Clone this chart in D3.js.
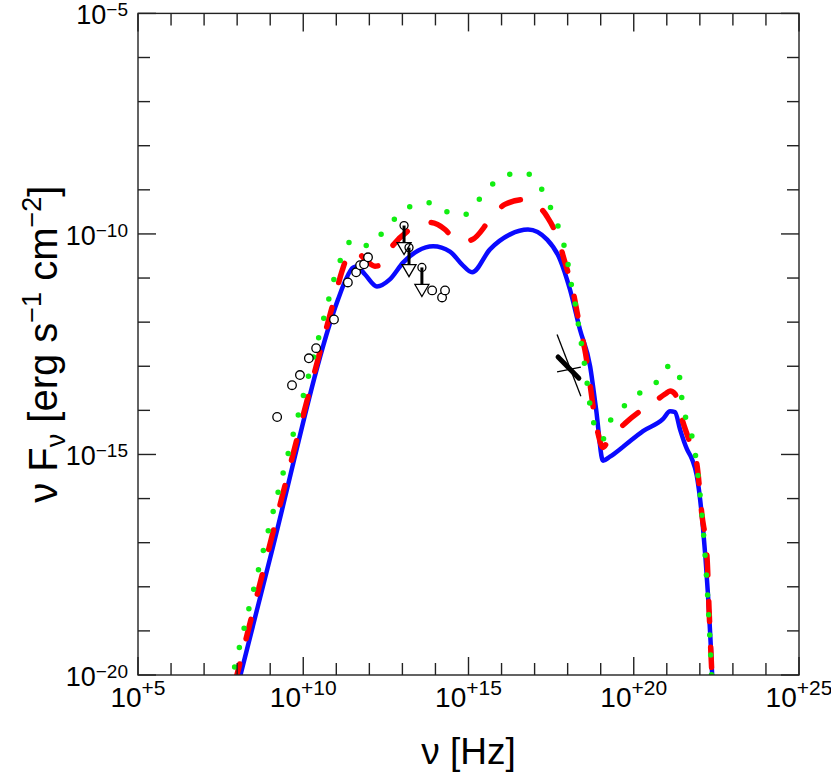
<!DOCTYPE html>
<html>
<head>
<meta charset="utf-8">
<script src="https://cdn.jsdelivr.net/npm/d3@7"></script>
<style>
  body { margin: 0; background: #fff; }
  text { font-family: "Liberation Sans", Arial, Helvetica, sans-serif; fill: #000; }
</style>
</head>
<body>
<svg id="chart"></svg>
<script>
// values are log10(nu [Hz]), log10(nuFnu [erg s^-1 cm^-2])
const modelSolid = [
  [8.05, -20.15], [8.99, -17.37], [11.05, -11.49], [11.26, -11.08], [11.51, -10.76],
  [11.63, -10.74], [11.87, -10.92], [12.23, -11.19], [12.62, -11.03], [13.02, -10.65],
  [13.47, -10.38], [13.93, -10.28], [14.44, -10.40], [14.80, -10.69], [15.11, -10.87],
  [15.65, -10.35], [16.26, -10.01], [16.80, -9.90], [17.38, -10.13], [17.77, -10.58],
  [18.07, -11.26], [18.37, -12.16], [18.68, -13.0], [18.86, -13.97], [19.07, -15.14],
  [19.28, -15.05], [19.67, -14.83], [20.28, -14.47], [20.88, -14.20], [21.10, -14.02],
  [21.25, -14.04], [21.40, -14.43], [21.61, -14.88], [21.76, -15.10], [21.91, -15.49],
  [22.09, -16.62], [22.24, -18.11], [22.37, -19.96], [22.40, -20.5]
];
const modelDashed = [
  [7.93, -20.19], [10.96, -11.42], [11.17, -10.85], [11.41, -10.42], [11.60, -10.40],
  [11.87, -10.58], [12.17, -10.73], [12.32, -10.71], [12.62, -10.35], [13.23, -9.90],
  [13.84, -9.74], [14.29, -9.90], [14.50, -10.06], [14.80, -10.17], [15.11, -10.13],
  [15.65, -9.68], [16.10, -9.33], [16.71, -9.22], [16.86, -9.25], [17.38, -9.61],
  [17.71, -10.11], [17.92, -10.65], [18.13, -11.19], [18.37, -12.10], [18.52, -12.62],
  [18.89, -14.43], [19.07, -14.84], [19.22, -14.70], [19.74, -14.29], [20.28, -13.97],
  [20.64, -13.79], [20.95, -13.63], [21.10, -13.56], [21.25, -13.63], [21.46, -14.20],
  [21.67, -14.67], [21.91, -15.22], [22.06, -16.35], [22.22, -17.37], [22.28, -18.54],
  [22.36, -19.9], [22.40, -20.5]
];
const modelDotted = [
  [7.78, -20.26], [8.72, -17.39], [10.81, -11.37], [10.96, -10.94], [11.17, -10.51],
  [11.47, -10.15], [11.70, -10.14], [11.96, -10.28], [12.38, -9.99], [12.78, -9.65],
  [13.23, -9.38], [13.77, -9.29], [14.32, -9.49], [14.83, -9.58], [15.26, -9.27],
  [15.65, -8.93], [16.10, -8.68], [16.68, -8.61], [17.13, -8.88], [17.41, -9.29],
  [17.65, -9.70], [17.83, -10.11], [17.98, -10.54], [18.07, -10.99], [18.19, -11.42],
  [18.37, -12.27], [18.55, -13.16], [18.71, -14.04], [18.89, -14.47], [19.07, -14.65],
  [19.28, -14.25], [19.67, -13.93], [20.13, -13.63], [20.64, -13.41], [20.98, -13.02],
  [21.16, -12.99], [21.34, -13.07], [21.49, -13.93], [21.67, -14.36], [21.82, -14.79],
  [21.97, -15.65], [22.03, -16.1], [22.16, -17.3], [22.25, -18.4], [22.33, -19.6],
  [22.37, -20.3]
];
const detections = [
  [9.21, -14.15], [9.66, -13.43], [9.90, -13.20], [10.17, -12.82], [10.39, -12.59],
  [10.93, -11.94], [11.35, -11.10], [11.60, -10.87], [11.72, -10.71], [11.84, -10.69],
  [11.96, -10.53], [13.90, -11.28], [14.20, -11.44], [14.29, -11.28]
];
const upperLimits = [[13.05, -9.81], [13.20, -10.31], [13.59, -10.76]];
// X-ray bow tie: best fit, steepest, flattest
const bowFit = [[17.71, -12.79], [18.34, -13.27]];
const bowSteep = [[17.68, -12.28], [18.40, -13.68]];
const bowFlat = [[17.68, -13.13], [18.40, -13.02]];

const xTicks = d3.range(5, 26, 1);
const yTicks = d3.range(-20, -4, 1);
const xLabels = [5, 10, 15, 20, 25];
const yLabels = [-20, -15, -10, -5];

const W = 831, H = 777;
const pL = 138, pR = 799, pT = 13.4, pB = 675;

const svg = d3.select('#chart').attr('width', W).attr('height', H);

const x = d3.scaleLog().domain([1e5, 1e25]).range([pL, pR]);
const y = d3.scaleLog().domain([1e-20, 1e-5]).range([pB, pT]);
const px = d => x(Math.pow(10, d[0]));
const py = d => y(Math.pow(10, d[1]));

svg.append('defs').append('clipPath').attr('id', 'plot')
  .append('rect').attr('x', pL).attr('y', pT)
  .attr('width', pR - pL).attr('height', pB - pT);

const curves = svg.append('g').attr('clip-path', 'url(#plot)');
const line = d3.line().x(px).y(py).curve(d3.curveMonotoneX);

curves.append('path').datum(modelSolid)
  .attr('d', line).attr('fill', 'none')
  .attr('stroke', '#0a0aff').attr('stroke-width', 4.5)
  .attr('stroke-linejoin', 'round');

curves.append('path').datum(modelDashed)
  .attr('d', line).attr('fill', 'none')
  .attr('stroke', '#ff0000').attr('stroke-width', 5.5)
  .attr('stroke-linecap', 'round')
  .attr('stroke-dasharray', '20,26');

curves.append('path').datum(modelDotted)
  .attr('d', line).attr('fill', 'none')
  .attr('stroke', '#11ee11').attr('stroke-width', 5.5)
  .attr('stroke-linecap', 'round')
  .attr('stroke-dasharray', '0,20');

// bow tie
const straight = d3.line().x(px).y(py);
[bowSteep, bowFlat].forEach(b => {
  svg.append('path').datum(b).attr('d', straight)
    .attr('stroke', '#000').attr('stroke-width', 1.3).attr('fill', 'none');
});
svg.append('path').datum(bowFit).attr('d', straight)
  .attr('stroke', '#000').attr('stroke-width', 5).attr('stroke-linecap', 'round');

// upper limits
const ul = svg.append('g');
upperLimits.forEach(d => {
  const cx = px(d), cy = py(d);
  ul.append('line').attr('x1', cx).attr('x2', cx).attr('y1', cy).attr('y2', cy + 18)
    .attr('stroke', '#000').attr('stroke-width', 3);
  ul.append('path')
    .attr('d', `M${cx - 7},${cy + 17}L${cx + 7},${cy + 17}L${cx},${cy + 29}Z`)
    .attr('fill', '#fff').attr('stroke', '#000').attr('stroke-width', 1.3);
  ul.append('circle').attr('cx', cx).attr('cy', cy).attr('r', 4)
    .attr('fill', 'none').attr('stroke', '#000').attr('stroke-width', 1.3);
});

svg.append('g').selectAll('circle').data(detections).enter().append('circle')
  .attr('cx', px).attr('cy', py).attr('r', 4.3)
  .attr('fill', '#fff').attr('stroke', '#000').attr('stroke-width', 1.3);

// frame and ticks
const axes = svg.append('g').attr('stroke', '#222').attr('stroke-width', 1.4);
axes.append('rect').attr('x', pL).attr('y', pT)
  .attr('width', pR - pL).attr('height', pB - pT).attr('fill', 'none');
xTicks.forEach(t => {
  const len = t % 5 === 0 ? 18 : 12;
  const xx = x(Math.pow(10, t));
  axes.append('line').attr('x1', xx).attr('x2', xx).attr('y1', pB).attr('y2', pB - len);
  axes.append('line').attr('x1', xx).attr('x2', xx).attr('y1', pT).attr('y2', pT + len);
});
yTicks.forEach(t => {
  const len = t % 5 === 0 ? 18 : 12;
  const yy = y(Math.pow(10, t));
  axes.append('line').attr('x1', pL).attr('x2', pL + len).attr('y1', yy).attr('y2', yy);
  axes.append('line').attr('x1', pR).attr('x2', pR - len).attr('y1', yy).attr('y2', yy);
});

// tick labels
xLabels.forEach(t => {
  const tx = svg.append('text').attr('x', x(Math.pow(10, t))).attr('y', pB + 32)
    .attr('text-anchor', 'middle').style('font-size', '28px');
  tx.append('tspan').text('10');
  tx.append('tspan').attr('dy', -12).style('font-size', '21px').text('+' + t);
});
yLabels.forEach(t => {
  const ty = svg.append('text').attr('x', pL - 10).attr('y', y(Math.pow(10, t)) + 11)
    .attr('text-anchor', 'end').style('font-size', '27px');
  ty.append('tspan').text('10');
  ty.append('tspan').attr('dy', -8).style('font-size', '19px').text('\u2212' + (-t));
});

// axis titles
svg.append('text').attr('x', (pL + pR) / 2).attr('y', 764)
  .attr('text-anchor', 'middle').style('font-size', '37px').text('\u03bd [Hz]');

const yt = svg.append('text')
  .attr('transform', `translate(57,${(pT + pB) / 2}) rotate(-90)`)
  .attr('text-anchor', 'middle').style('font-size', '40px');
yt.append('tspan').text('\u03bd F');
yt.append('tspan').attr('dy', 8).style('font-size', '27px').text('\u03bd');
yt.append('tspan').attr('dy', -8).text(' [erg s');
yt.append('tspan').attr('dy', -16).style('font-size', '27px').text('\u22121');
yt.append('tspan').attr('dy', 16).text(' cm');
yt.append('tspan').attr('dy', -16).style('font-size', '27px').text('\u22122');
yt.append('tspan').attr('dy', 16).text(']');
</script>
</body>
</html>
